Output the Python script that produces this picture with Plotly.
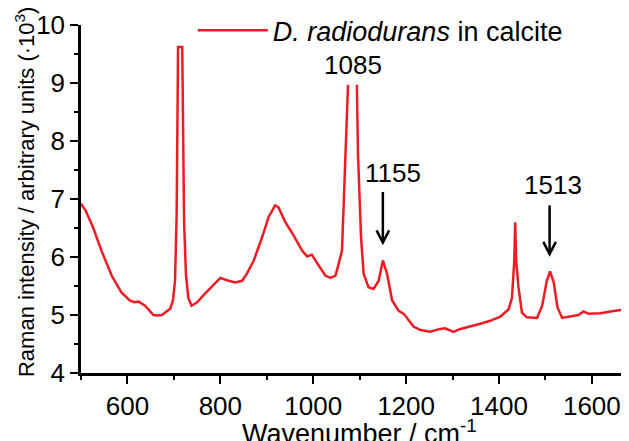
import plotly.graph_objects as go

# Raman spectrum (wavenumber in cm^-1, intensity in 10^3 arbitrary units)
wavenumber = [500, 510, 526, 544, 566, 587, 605, 615, 624, 638, 656, 665, 674, 685, 692, 698,
              702.5, 706, 708, 709, 718, 720, 722, 726, 731, 738, 750, 767, 780, 792, 800, 814,
              832, 847, 857, 872, 890, 904, 918, 925, 940, 958, 976, 987, 997, 1012, 1026, 1037,
              1048, 1057, 1062, 1067, 1073, 1075, 1084, 1094, 1096.4, 1103, 1108.6, 1119, 1130,
              1141, 1150, 1159, 1170, 1184, 1195, 1216, 1231, 1252, 1273, 1284, 1302, 1317, 1338,
              1360, 1381, 1403, 1421, 1428, 1433, 1435, 1437, 1442, 1449.5, 1460, 1482, 1493,
              1503, 1510, 1518, 1526, 1536, 1553, 1571, 1582, 1593, 1618, 1647, 1680]
intensity = [6.92, 6.80, 6.51, 6.11, 5.68, 5.39, 5.25, 5.22, 5.23, 5.16, 5.00, 4.99, 5.00, 5.06,
             5.11, 5.25, 5.59, 6.75, 8.36, 9.62, 9.62, 8.36, 6.60, 5.70, 5.30, 5.16, 5.22, 5.37,
             5.48, 5.59, 5.64, 5.60, 5.56, 5.59, 5.71, 5.94, 6.34, 6.69, 6.89, 6.86, 6.60, 6.37,
             6.11, 6.01, 6.04, 5.85, 5.68, 5.64, 5.68, 5.95, 6.11, 7.21, 8.36, 8.97, None, 8.97,
             7.79, 6.34, 5.71, 5.48, 5.45, 5.59, 5.94, 5.71, 5.25, 5.07, 5.02, 4.80, 4.74, 4.71,
             4.76, 4.77, 4.71, 4.76, 4.80, 4.85, 4.90, 4.97, 5.10, 5.30, 5.94, 6.60, 5.94, 5.48,
             5.04, 4.96, 4.95, 5.16, 5.59, 5.75, 5.56, 5.13, 4.95, 4.97, 5.00, 5.06, 5.02, 5.03,
             5.07, 5.10]

series_name = "<i>D. radiodurans</i> in calcite"
x_tick_vals = [600, 800, 1000, 1200, 1400, 1600]
y_tick_vals = [4, 5, 6, 7, 8, 9, 10]

# peak labels: (text, label x, label y)
peak_labels = [("1085", 1085, 9.31), ("1155", 1172, 7.45), ("1513", 1517, 7.24)]
# arrows: (x, top y, tip y)
peak_arrows = [(1150, 7.12, 6.25), (1509, 6.89, 6.05)]

RED = "#ED1C24"
FONT = "Liberation Sans, Arial, sans-serif"

fig = go.Figure()
fig.add_trace(go.Scatter(x=wavenumber, y=intensity, mode="lines", name=series_name,
                         line=dict(color=RED, width=2.5), connectgaps=False))

# page body has an 8px margin, so the figure is 8px smaller than the window
fig.update_layout(
    width=621, height=433,
    margin=dict(l=73, r=0, t=17, b=68, autoexpand=False),
    paper_bgcolor="white", plot_bgcolor="white",
    font=dict(family=FONT, color="black", size=26),
    showlegend=True,
    legend=dict(x=0.204, y=1.054, xanchor="left", yanchor="top", itemwidth=70,
                font=dict(size=27, family=FONT), bgcolor="rgba(0,0,0,0)"),
)
common = dict(ticks="outside", ticklen=8, tickwidth=2, tickcolor="black", showline=True,
              linecolor="black", linewidth=2.5, showgrid=False, zeroline=False,
              automargin=False, tickfont=dict(size=26))
fig.update_xaxes(range=[500, 1680], tickvals=x_tick_vals,
                 minor=dict(dtick=100, tick0=500, ticks="outside", ticklen=4, tickwidth=2,
                            tickcolor="black", showgrid=False), **common)
fig.update_yaxes(range=[4, 10], tickvals=y_tick_vals,
                 minor=dict(dtick=0.5, tick0=4, ticks="outside", ticklen=4, tickwidth=2,
                            tickcolor="black", showgrid=False), **common)

# axis titles
fig.add_annotation(text="Raman intensity / arbitrary units (·10<sup>3</sup>)", textangle=-90,
                   xref="paper", yref="paper", x=0, y=0.52, xshift=-56, xanchor="center",
                   yanchor="middle", showarrow=False, font=dict(size=22))
fig.add_annotation(text="Wavenumber / cm<sup>-1</sup>", xref="paper", yref="paper",
                   x=0.509, y=0, yshift=-40, xanchor="center", yanchor="top",
                   showarrow=False, font=dict(size=27))

for txt, lx, ly in peak_labels:
    fig.add_annotation(text=txt, x=lx, y=ly, xref="x", yref="y", showarrow=False,
                       font=dict(size=26), xanchor="center", yanchor="middle")

hx = 13.5   # half-width of arrow head in x data units
hy = 0.21   # arrow head height in y data units
for ax_, top, tip in peak_arrows:
    fig.add_shape(type="line", x0=ax_, x1=ax_, y0=top, y1=tip, xref="x", yref="y",
                  line=dict(color="black", width=2.5))
    fig.add_shape(type="path", xref="x", yref="y",
                  path=f"M{ax_-hx},{tip+hy} L{ax_},{tip} L{ax_+hx},{tip+hy}",
                  line=dict(color="black", width=2.5))

fig.write_html("out.html")
